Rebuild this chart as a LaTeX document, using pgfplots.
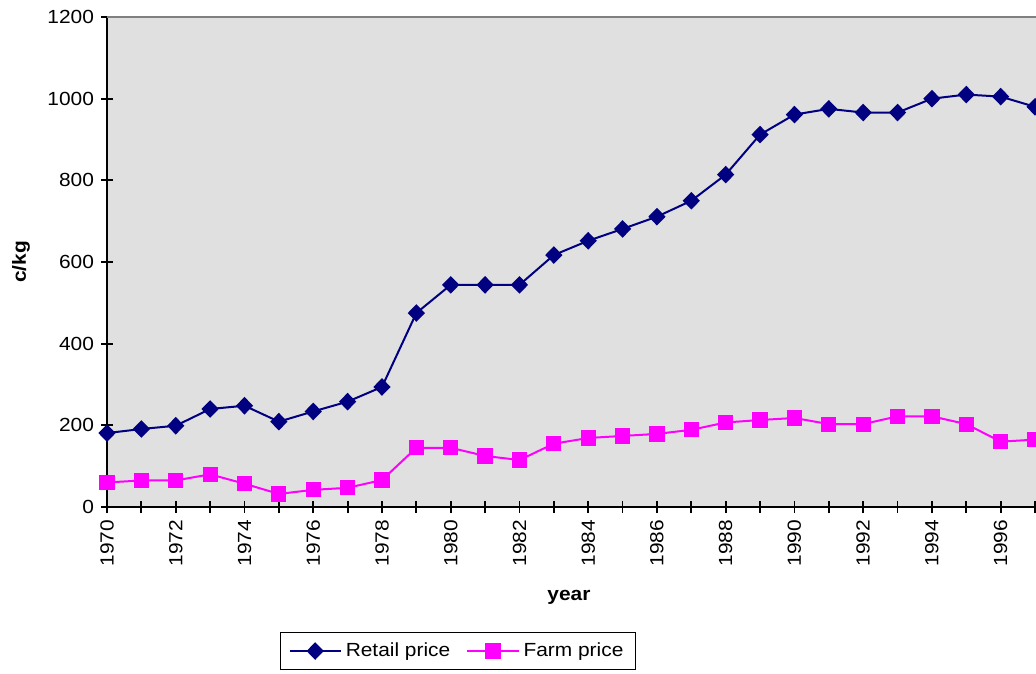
\documentclass[border=0pt]{standalone}
\usepackage{pgfplots}
\pgfplotsset{compat=1.18}
\usepackage{pgfplotstable}
\usepackage{fontspec}
\setmainfont[FakeStretch=1.1]{Liberation Sans}

\definecolor{retail}{RGB}{0,0,128}
\definecolor{farm}{RGB}{255,0,255}
\definecolor{plotbg}{RGB}{224,224,224}

\pgfplotstableread{
year retail farm
1970 181 60
1971 191 65
1972 199 65
1973 240 80
1974 248 57
1975 209 32
1976 234 42
1977 258 47
1978 294 66
1979 475 145
1980 544 145
1981 544 125
1982 544 115
1983 617 155
1984 652 169
1985 681 174
1986 711 179
1987 750 189
1988 814 207
1989 912 213
1990 961 218
1991 975 203
1992 966 203
1993 966 222
1994 1000 222
1995 1010 203
1996 1005 160
1997 980 165
}\prices

\begin{document}
\begin{tikzpicture}
\useasboundingbox (-53.5pt,-83pt) rectangle (464.5pt,253.5pt);
\clip (-53.5pt,-83pt) rectangle (464.5pt,253.5pt);
\begin{axis}[
  at={(0,0)}, anchor=south west,
  scale only axis, width=481.2pt, height=245pt,
  xmin=1970, xmax=1998, ymin=0, ymax=1200,
  font=\fontsize{9.5}{11}\selectfont,
  /pgf/number format/assume math mode=true,
  /pgf/number format/1000 sep={},
  axis background/.style={fill=plotbg},
  axis x line*=bottom, axis y line*=left,
  axis line style={line width=1pt, black},
  xtick={1970,1972,...,1996}, minor xtick={1971,1973,...,1997},
  ytick={0,200,...,1200},
  tick align=center, major tick length=6pt, minor tick length=6pt,
  tick style={line width=0.9pt, black},
  xticklabel style={rotate=90, anchor=east},
  xlabel={\bfseries year}, ylabel={\bfseries c/kg},
  xlabel style={at={(axis description cs:0.480,-0.1837)}, anchor=center},
  ylabel style={at={(axis description cs:-0.0894,0.5)}, anchor=center},
  legend columns=2,
  legend style={at={(axis description cs:0.3647,-0.2939)}, anchor=center,
    draw=black, line width=0.8pt, fill=white, inner xsep=4pt, inner ysep=3pt,
    /tikz/every even column/.append style={column sep=6pt}},
  legend image code/.code={\draw[mark repeat=2, mark phase=2] plot coordinates {(0cm,0cm) (0.45cm,0cm) (0.9cm,0cm)};},
]
\draw[gray, line width=0.8pt] (rel axis cs:0,1) -- (rel axis cs:1,1);
\addplot[retail, line width=1pt, mark=diamond*, mark size=3.7pt,
  mark options={xscale=1.3, solid}] table[x=year, y=retail] {\prices};
\addlegendentry{Retail price}
\addplot[farm, line width=1pt, mark=square*, mark size=3.3pt,
  mark options={solid}] table[x=year, y=farm] {\prices};
\addlegendentry{Farm price}
\end{axis}
\end{tikzpicture}
\end{document}
